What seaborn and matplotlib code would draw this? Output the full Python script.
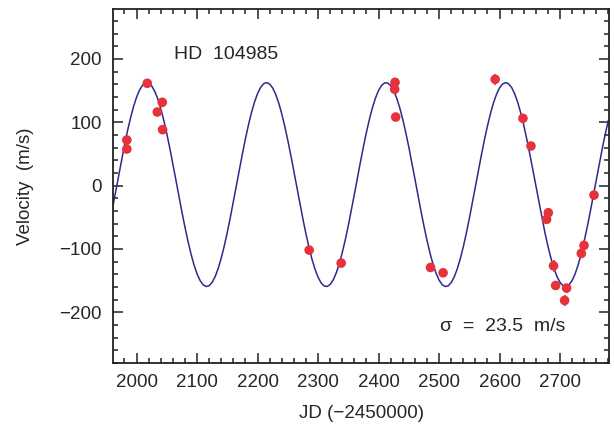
import matplotlib
matplotlib.use('Agg')
import numpy as np
import pandas as pd
import matplotlib.pyplot as plt
from matplotlib.ticker import MultipleLocator
import seaborn as sns

# Радиальные скорости HD 104985
jd = [1983.9, 1983.9, 2017.7, 2034.3, 2042.5, 2043.0,
      2285.3, 2338.2, 2427.2, 2426.6, 2428.3, 2485.9, 2506.6,
      2592.7, 2638.6, 2651.8, 2680.5, 2677.7, 2689.2, 2692.6,
      2710.8, 2707.5, 2739.6, 2735.1, 2756.1]
velocity = [71.9, 57.7, 161.4, 116.1, 131.4, 88.2,
            -101.9, -122.4, 163.0, 152.0, 108.2, -129.3, -137.7,
            167.8, 106.1, 62.4, -42.9, -53.4, -126.7, -157.7,
            -161.9, -181.4, -94.5, -107.1, -15.0]
vel_err = [7, 7, 6, 7, 7, 7,
           6, 6, 6, 6, 7, 6, 6,
           9, 6, 6, 8, 8, 9, 7,
           7, 9, 8, 8, 8]

# Кривая орбитального решения
# (на днях 1960, 1970, ... и на днях 1965, 1975, ...)
fit_jd_a = list(range(1960, 2790, 10))
fit_vel_a = [-36.9, 13.9, 63.5, 106.7, 139.6, 158.5, 161.8, 148.9, 121.3, 81.8,
             34.2, -16.8, -65.8, -108.1, -139.5, -156.7, -158.1, -143.5, -114.3, -73.6,
             -25.4, 25.6, 74.1, 115.4, 145.3, 160.7, 160.2, 143.8, 113.2, 71.3,
             22.5, -28.4, -76.3, -116.5, -144.8, -158.5, -156.1, -138.0, -105.9, -63.0,
             -13.7, 37.2, 84.4, 123.4, 150.2, 162.0, 157.8, 137.9, 104.4, 60.6,
             10.8, -39.9, -86.4, -124.2, -149.3, -159.4, -153.3, -131.7, -96.7, -52.0,
             -1.9, 48.5, 94.3, 130.8, 154.3, 162.5, 154.6, 131.3, 95.1, 49.5,
             -1.0, -51.1, -96.0, -131.2, -153.0, -159.4, -149.7, -124.8, -87.2, -40.8,
             9.8, 59.7, 103.7]
fit_jd_b = list(range(1965, 2780, 10))
fit_vel_b = [-11.7, 39.1, 86.2, 124.7, 150.9, 162.2, 157.3, 136.9, 102.8, 58.7,
             8.8, -41.9, -88.1, -125.4, -150.0, -159.4, -152.7, -130.6, -95.2, -50.1,
             0.1, 50.5, 96.0, 132.0, 154.9, 162.5, 154.0, 130.1, 93.4, 47.5,
             -3.0, -53.1, -97.6, -132.3, -153.6, -159.3, -149.0, -123.5, -85.5, -38.8,
             11.9, 61.6, 105.2, 138.5, 158.1, 161.9, 149.7, 122.7, 83.5, 36.1,
             -14.7, -64.0, -106.6, -138.5, -156.3, -158.4, -144.4, -115.8, -75.4, -27.4,
             23.6, 72.3, 113.9, 144.3, 160.4, 160.6, 144.8, 114.6, 73.2, 24.5,
             -26.4, -74.6, -115.1, -143.9, -158.2, -156.5, -139.0, -107.4, -64.9, -15.7,
             35.2, 82.7]

obs = pd.DataFrame({'jd': jd, 'velocity': velocity, 'err': vel_err})
fit = pd.DataFrame({'jd': fit_jd_a + fit_jd_b, 'velocity': fit_vel_a + fit_vel_b})
fit = fit.sort_values('jd').reset_index(drop=True)

sns.set_style('ticks')
plt.rcParams['font.family'] = ['Liberation Sans', 'DejaVu Sans']

fig = plt.figure(figsize=(6.14, 4.29), dpi=100)
ax = fig.add_axes([0.184, 0.154, 0.808, 0.824])

sns.lineplot(x='jd', y='velocity', data=fit, ax=ax, color='#2E2A8C',
             linewidth=1.1, sort=False)
ax.errorbar(obs['jd'], obs['velocity'], yerr=obs['err'], fmt='none',
            ecolor='#E5323B', elinewidth=1.2, zorder=3)
sns.scatterplot(x='jd', y='velocity', data=obs, ax=ax, color='#E5323B',
                s=48, edgecolor='none', zorder=4)

ax.set_xlim(1961, 2781)
ax.set_ylim(-280, 278)
ax.xaxis.set_major_locator(MultipleLocator(100))
ax.xaxis.set_minor_locator(MultipleLocator(20))
ax.yaxis.set_major_locator(MultipleLocator(100))
ax.yaxis.set_minor_locator(MultipleLocator(20))
ax.tick_params(which='both', direction='in', top=True, right=True,
               labelsize=13.5, color='#222222', width=1.1)
ax.tick_params(which='major', length=7, pad=8)
ax.tick_params(which='minor', length=3.5)
ax.set_yticks([-200, -100, 0, 100, 200])
ax.set_yticklabels(['\u2212200', '\u2212100', '0', '100', '200'])
for s in ax.spines.values():
    s.set_linewidth(1.3)
    s.set_color('#222222')

ax.set_xlabel('JD (\u22122450000)', fontsize=13.5, labelpad=10)
ax.set_ylabel('Velocity  (m/s)', fontsize=13.5, labelpad=18)
ax.text(2062, 207, 'HD  104985', fontsize=14, va='center', ha='left')
ax.text(2501, -222, '\u03c3  =  23.5  m/s', fontsize=14, va='center', ha='left')

fig.savefig('out.png', dpi=100)
